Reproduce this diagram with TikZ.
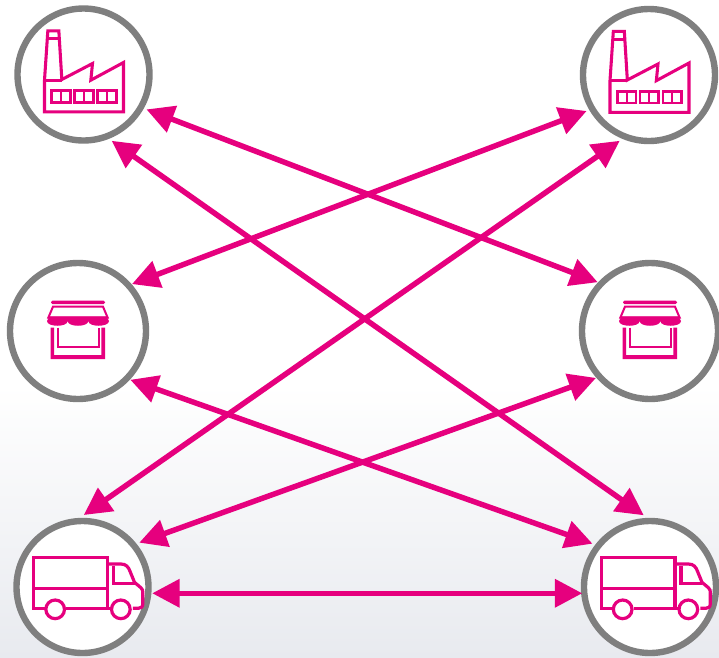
\documentclass[tikz,border=0pt]{standalone}
\usetikzlibrary{arrows.meta}
\definecolor{brandpink}{HTML}{E6007E}
\definecolor{ringgray}{HTML}{7F7F7F}
\definecolor{floorgray}{HTML}{E8EAEF}
\tikzset{
  x=0.75pt,y=-0.75pt,
  hub/.style={circle,draw=ringgray,fill=white,line width=4.8pt,inner sep=0pt},
  smallhub/.style={hub,minimum size=99pt,outer sep=4.5pt},
  bighub/.style={hub,minimum size=102pt,outer sep=2.625pt},
  link/.style={draw=brandpink,line width=4.1pt,{Triangle[length=20.5pt,width=20.5pt]}-{Triangle[length=20.5pt,width=20.5pt]}},
  icon/.style={draw=brandpink,line width=2.3pt,line join=miter},
  pics/factory/.style={code={
    \begin{scope}[x=.25pt,y=-.25pt,shift={(-250,-223)}]
      \path[icon] (133,335) -- (133,240) -- (143,92) -- (176,92) -- (185,238) -- (277,190) -- (272,240) -- (370,187) -- (370,335) -- cycle;
      \path[icon] (133,240) -- (185,240) (141,116) -- (178,116);
      \foreach \w in {155,223,292}{
        \path[icon,line width=2.2pt] (\w,272) rectangle ++(56,35);
        \path[icon,line width=1.6pt] (\w+28,272) -- ++(0,35);
      }
    \end{scope}}},
  pics/shop/.style={code={
    \begin{scope}[x=.25pt,y=-.25pt,shift={(-235,-228)}]
      \fill[brandpink,rounded corners=1pt] (154,137) rectangle (316,147);
      \path[icon,line width=1.5pt] (160,155) -- (310,155) -- (324,188) -- (146,188) -- cycle;
      \fill[brandpink] (149,184) -- (321,184) -- (328,198)
        .. controls (328,217) and (266,217) .. (266,198)
        .. controls (266,217) and (204,217) .. (204,198)
        .. controls (204,217) and (142,217) .. (142,198) -- cycle;
      \fill[brandpink] (153,218) rectangle (163,312) (305,218) rectangle (316,312) (153,300) rectangle (316,312);
      \path[icon,line width=1.3pt] (174,218) -- (174,275) -- (297,275) -- (297,218);
    \end{scope}}},
  pics/lorry/.style={code={
    \begin{scope}[x=.25pt,y=-.25pt,shift={(-247,-268)}]
      \path[icon,line width=2.4pt] (135,332) -- (101,332) -- (101,179) -- (322,179) -- (322,332);
      \path[icon,line width=2.4pt] (101,272) -- (322,272) (198,332) -- (335,332);
      \path[icon,line width=2.4pt] (322,199) -- (362,199) .. controls (378,199) and (385,208) .. (390,222) -- (403,254) -- (422,270) .. controls (427,275) and (428,278) .. (428,284) -- (428,318) .. controls (428,328) and (422,332) .. (414,332) -- (398,332);
      \path[icon,line width=2.4pt] (340,204) -- (340,257) -- (403,257);
      \path[icon,line width=2.4pt] (165,335) circle[radius=28] (362,335) circle[radius=28];
    \end{scope}}}
}
\begin{document}
\begin{tikzpicture}
  \useasboundingbox (0,0) rectangle (719,658);
  \fill[white] (0,0) rectangle (719,385);
  \shade[top color=white,bottom color=floorgray,draw=none] (0,385) rectangle (719,658);

  \node[smallhub] (factoryL) at (83.5,74.5) {};
  \node[smallhub] (factoryR) at (649,75) {};
  \node[bighub]   (shopL)    at (78,331) {};
  \node[bighub]   (shopR)    at (650,331) {};
  \node[smallhub] (truckL)   at (82.5,587) {};
  \node[smallhub] (truckR)   at (650,587) {};

  \pic at (factoryL.center) {factory};
  \pic at (factoryR.center) {factory};
  \pic at (shopL.center) {shop};
  \pic at (shopR.center) {shop};
  \pic at (truckL.center) {lorry};
  \pic at (truckR.center) {lorry};

  \draw[link] (factoryL.-29.6) -- (shopR.137.2);
  \draw[link] (factoryL.-67.1) -- (truckR.95.5);
  \draw[link] (factoryR.210.8) -- (shopL.41.6);
  \draw[link] (factoryR.246.3) -- (truckL.89.6);
  \draw[link] (shopL.-43.9) -- (truckR.143.8);
  \draw[link] (shopR.221.6) -- (truckL.38.3);
  \draw[link,shorten <=-1.5pt,shorten >=-3pt] (truckL.-5.75) -- (truckR.185.9);
\end{tikzpicture}
\end{document}
